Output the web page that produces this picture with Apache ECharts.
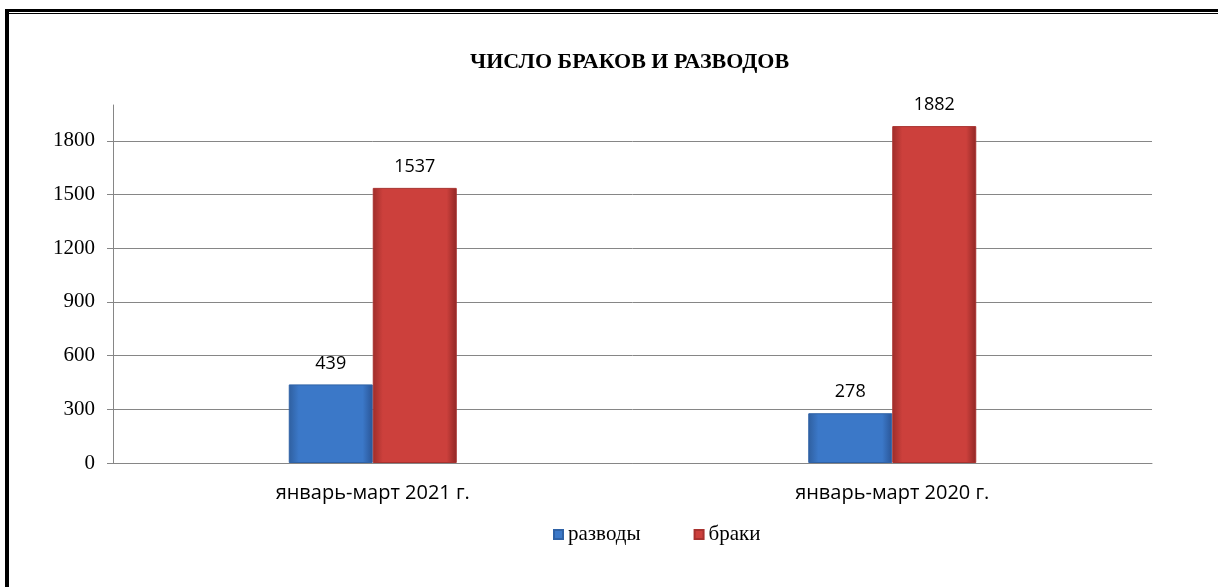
<!DOCTYPE html>
<html>
<head>
<meta charset="utf-8">
<script src="https://cdn.jsdelivr.net/npm/echarts@6/dist/echarts.min.js"></script>
<style>
  html, body { margin: 0; padding: 0; background: #fff; }
  #main { position: absolute; left: 0; top: 0; width: 1218px; height: 587px; }
  .edge { position: absolute; background: #000; }
</style>
</head>
<body>
<div id="main"></div>
<div class="edge" style="left:5px; top:9px; width:1213px; height:3px;"></div>
<div class="edge" style="left:8px; top:13px; width:1210px; height:1px;"></div>
<div class="edge" style="left:5px; top:9px; width:4px; height:578px;"></div>
<script>
var categories = ['январь-март 2021 г.', 'январь-март 2020 г.'];
var divorces = [439, 278];
var marriages = [1537, 1882];

var myChart = echarts.init(document.getElementById('main'));

function grad(c1, c2, c3) {
    return new echarts.graphic.LinearGradient(0, 0, 1, 0, [
        { offset: 0, color: c1 },
        { offset: 0.12, color: c2 },
        { offset: 0.88, color: c2 },
        { offset: 1, color: c3 }
    ]);
}

var labelStyle = {
    show: true,
    position: 'top',
    distance: 12,
    color: '#000',
    fontFamily: 'Open Sans',
    fontSize: 18
};

var option = {
    animation: false,
    title: {
        text: 'ЧИСЛО БРАКОВ И РАЗВОДОВ',
        left: 465,
        top: 46,
        textStyle: { fontFamily: 'Liberation Serif', fontWeight: 'bold', fontSize: 22, color: '#000' }
    },
    legend: {
        top: 519,
        left: 548,
        itemWidth: 9,
        itemHeight: 9,
        itemGap: 53,
        icon: 'rect',
        textStyle: { fontFamily: 'Liberation Serif', fontSize: 21, color: '#000' },
        data: ['разводы', 'браки']
    },
    grid: { left: 113, right: 66, top: 105, bottom: 124 },
    xAxis: {
        type: 'category',
        data: categories,
        axisLine: { lineStyle: { color: '#868686' } },
        axisTick: { length: 7, lineStyle: { color: '#868686' } },
        axisLabel: { margin: 20, color: '#000', fontFamily: 'Open Sans', fontSize: 20 }
    },
    yAxis: {
        type: 'value',
        min: 0,
        max: 2000,
        interval: 300,
        axisLine: { show: true, lineStyle: { color: '#868686' } },
        axisTick: { show: true, inside: false, length: 6, lineStyle: { color: '#868686', width: 1 } },
        axisLabel: {
            margin: 18, color: '#000', fontFamily: 'Liberation Serif', fontSize: 21,
            showMaxLabel: false,
            formatter: function (v) { return String(v); }
        },
        splitLine: { showMaxLine: false, lineStyle: { color: '#868686' } }
    },
    series: [{
        name: 'разводы',
        type: 'bar',
        barWidth: 84,
        barGap: '0%',
        data: divorces,
        itemStyle: { color: grad('#2f5f9f', '#3b78c8', '#2a5596'), borderColor: '#2f62a6', borderWidth: 1 },
        label: labelStyle
    }, {
        name: 'браки',
        type: 'bar',
        barWidth: 84,
        data: marriages,
        itemStyle: { color: grad('#9e2d2a', '#cc403c', '#8f2725'), borderColor: '#a8322f', borderWidth: 1 },
        label: labelStyle
    }]
};

myChart.setOption(option);
</script>
</body>
</html>
